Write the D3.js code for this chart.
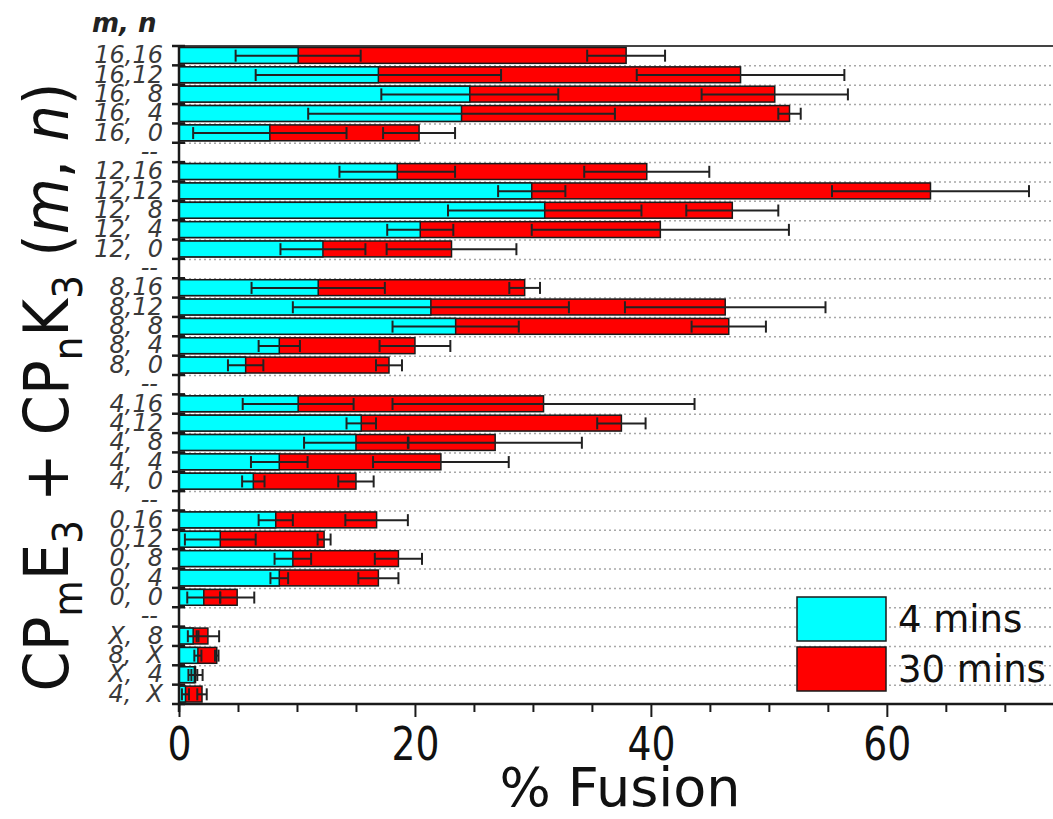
<!DOCTYPE html>
<html>
<head>
<meta charset="utf-8">
<script src="https://cdn.jsdelivr.net/npm/d3@7/dist/d3.min.js"></script>
<style>
  html, body { margin: 0; padding: 0; background: #fff; }
  svg { display: block; }
  text { font-family: "DejaVu Sans", Verdana, sans-serif; }
</style>
</head>
<body>
<svg id="chart" width="1053" height="819"></svg>
<script>
// Row labels (m, n); "--" rows separate the groups
const categories = [
  "16,16", "16,12", "16, 8", "16, 4", "16, 0", "--",
  "12,16", "12,12", "12, 8", "12, 4", "12, 0", "--",
  "8,16", "8,12", "8, 8", "8, 4", "8, 0", "--",
  "4,16", "4,12", "4, 8", "4, 4", "4, 0", "--",
  "0,16", "0,12", "0, 8", "0, 4", "0, 0", "--",
  "X, 8", "8, X", "X, 4", "4, X"
];

// % fusion after 4 minutes, with error
const fourMins = [
  10.1, 16.9, 24.65, 23.95, 7.7, null,
  18.5, 29.9, 31.0, 20.45, 12.2, null,
  11.8, 21.35, 23.45, 8.5, 5.65, null,
  10.1, 15.45, 15.0, 8.5, 6.3, null,
  8.2, 3.5, 9.65, 8.5, 2.1, null,
  1.2, 1.6, 1.3, 0.55
];
const fourMinsErr = [
  5.3, 10.4, 7.5, 13.0, 6.5, null,
  4.9, 2.85, 8.2, 2.8, 3.6, null,
  5.65, 11.7, 5.35, 1.75, 1.5, null,
  4.7, 1.25, 4.4, 2.4, 0.95, null,
  1.45, 3.0, 1.55, 0.75, 1.4, null,
  0.45, 0.3, 0.25, 0.3
];

// % fusion after 30 minutes, with error
const thirtyMins = [
  37.9, 47.6, 50.5, 51.75, 20.35, null,
  39.65, 63.7, 46.9, 40.8, 23.1, null,
  29.3, 46.3, 46.6, 20.0, 17.8, null,
  30.9, 37.5, 26.8, 22.2, 15.0, null,
  16.75, 12.3, 18.6, 16.9, 4.93, null,
  2.45, 3.2, 1.4, 1.95
];
const thirtyMinsErr = [
  3.3, 8.8, 6.2, 0.95, 3.05, null,
  5.3, 8.35, 3.9, 10.9, 5.5, null,
  1.3, 8.5, 3.15, 3.0, 1.1, null,
  12.8, 2.05, 7.35, 5.75, 1.5, null,
  2.65, 0.55, 2.0, 1.7, 1.45, null,
  0.95, 0.15, 0.6, 0.4
];

const majorTicks = [0, 20, 40, 60];
const minorTicks = [5, 10, 15, 25, 30, 35, 45, 50, 55, 65, 70];

const seriesNames = ["4 mins", "30 mins"];
const seriesColors = ["#00ffff", "#ff0000"];

const svg = d3.select("#chart");
const W = 1053;
const plotLeft = 179, plotRight = 1052, plotTop = 46, plotBottom = 704;

const x = d3.scaleLinear().domain([0, 74]).range([plotLeft, plotRight]);
const y = d3.scaleBand().domain(d3.range(categories.length)).range([plotTop, plotBottom]);
const yEdge = d3.scaleLinear().domain([0, categories.length]).range([plotTop, plotBottom]);
const bw = y.bandwidth();

// dotted row separators
svg.append("g").selectAll("line")
  .data(d3.range(1, categories.length))
  .join("line")
  .attr("x1", plotLeft).attr("x2", W)
  .attr("y1", d => yEdge(d) + 0.5).attr("y2", d => yEdge(d) + 0.5)
  .attr("stroke", "#a8a8a8").attr("stroke-width", 1.5)
  .attr("stroke-dasharray", "2,3");

// top frame line
svg.append("line")
  .attr("x1", plotLeft).attr("x2", W).attr("y1", plotTop).attr("y2", plotTop)
  .attr("stroke", "#444").attr("stroke-width", 2);

const rows = d3.range(categories.length).filter(i => fourMins[i] !== null);
const barTop = i => y(i) + 1.5;
const barH = bw - 3.5;

// 30-min bars underneath
svg.append("g").selectAll("rect")
  .data(rows).join("rect")
  .attr("x", x(0)).attr("y", barTop)
  .attr("width", i => x(thirtyMins[i]) - x(0)).attr("height", barH)
  .attr("fill", seriesColors[1]).attr("stroke", "#1a1a1a").attr("stroke-width", 1.5);

// 4-min bars on top
svg.append("g").selectAll("rect")
  .data(rows).join("rect")
  .attr("x", x(0)).attr("y", barTop)
  .attr("width", i => x(fourMins[i]) - x(0)).attr("height", barH)
  .attr("fill", seriesColors[0]).attr("stroke", "#1a1a1a").attr("stroke-width", 1.5);

// error bars
function drawErrors(vals, errs) {
  const g = svg.append("g").attr("stroke", "#222").attr("stroke-width", 2).attr("fill", "none");
  rows.forEach(i => {
    const cy = y(i) + bw / 2;
    const lo = Math.max(0, vals[i] - errs[i]), hi = vals[i] + errs[i];
    g.append("line").attr("x1", x(lo)).attr("x2", x(hi)).attr("y1", cy).attr("y2", cy);
    [lo, hi].forEach(v => {
      g.append("line").attr("x1", x(v)).attr("x2", x(v))
        .attr("y1", cy - 6).attr("y2", cy + 6);
    });
  });
}
drawErrors(fourMins, fourMinsErr);
drawErrors(thirtyMins, thirtyMinsErr);

// left axis with ticks at row edges
svg.append("line")
  .attr("x1", plotLeft).attr("x2", plotLeft).attr("y1", plotTop).attr("y2", plotBottom + 8)
  .attr("stroke", "#1a1a1a").attr("stroke-width", 2.5);
svg.append("g").selectAll("line")
  .data(d3.range(0, categories.length + 1)).join("line")
  .attr("x1", plotLeft - 7).attr("x2", plotLeft + 6)
  .attr("y1", d => yEdge(d)).attr("y2", d => yEdge(d))
  .attr("stroke", "#1a1a1a").attr("stroke-width", 2.5);

// row labels
svg.append("g").selectAll("text")
  .data(d3.range(categories.length)).join("text")
  .attr("x", i => categories[i] === "--" ? 158 : 163)
  .attr("y", i => y(i) + bw / 2 + 7.5)
  .attr("text-anchor", "end")
  .attr("font-size", 24).attr("font-style", "italic")
  .attr("fill", "#3a3a3a")
  .text(i => categories[i].replace(", ", ",\u2007"));

// header
svg.append("text")
  .attr("x", 92).attr("y", 32)
  .attr("font-size", 26).attr("font-style", "italic").attr("font-weight", "bold")
  .attr("fill", "#222")
  .text("m, n");

// bottom axis: minor and major ticks
const axisY = plotBottom;
svg.append("g").attr("transform", `translate(0,${axisY})`)
  .call(d3.axisBottom(x).tickValues(minorTicks).tickSize(8).tickFormat(""))
  .call(g => g.select(".domain").remove())
  .call(g => g.selectAll(".tick line").attr("stroke", "#1a1a1a").attr("stroke-width", 2));
const xAxis = svg.append("g").attr("transform", `translate(0,${axisY})`)
  .call(d3.axisBottom(x).tickValues(majorTicks).tickSize(13).tickPadding(10).tickFormat(d3.format("d")));
xAxis.select(".domain").remove();
xAxis.selectAll(".tick line").attr("stroke", "#1a1a1a").attr("stroke-width", 2);
xAxis.selectAll(".tick text")
  .attr("font-family", "'DejaVu Sans', Verdana, sans-serif")
  .attr("font-size", 46).attr("fill", "#111")
  .attr("transform", "scale(0.82,1)");
svg.append("line")
  .attr("x1", plotLeft - 1).attr("x2", W).attr("y1", axisY).attr("y2", axisY)
  .attr("stroke", "#1a1a1a").attr("stroke-width", 2.5);

// axis titles
svg.append("text")
  .attr("x", 620).attr("y", 806)
  .attr("text-anchor", "middle").attr("font-size", 54).attr("fill", "#111")
  .text("% Fusion");

const yt = svg.append("text")
  .attr("transform", "translate(68,387) rotate(-90) scale(0.93,1)")
  .attr("text-anchor", "middle").attr("font-size", 62).attr("fill", "#111");
const parts = [
  ["CP", 0], ["m", 1], ["E", 0], ["3", 1], [" + CP", 0], ["n", 1], ["K", 0], ["3", 1], [" (", 0],
  ["m", 2], [", ", 0], ["n", 2], [")", 0]
];
let shifted = false;
parts.forEach(([t, kind]) => {
  const s = yt.append("tspan").text(t);
  if (kind === 1) {
    s.attr("font-size", 40).attr("dy", shifted ? 0 : 14);
    shifted = true;
  } else {
    if (shifted) { s.attr("dy", -14); shifted = false; }
    if (kind === 2) s.attr("font-style", "italic");
  }
});

// legend
const legend = svg.append("g");
seriesNames.forEach((name, k) => {
  const ly = 597 + k * 50;
  legend.append("rect")
    .attr("x", 797).attr("y", ly).attr("width", 89).attr("height", 44)
    .attr("fill", seriesColors[k]).attr("stroke", "#1a1a1a").attr("stroke-width", 1.5);
  legend.append("text")
    .attr("x", 898).attr("y", ly + 35)
    .attr("font-size", 37).attr("fill", "#111")
    .text(name);
});
</script>
</body>
</html>
